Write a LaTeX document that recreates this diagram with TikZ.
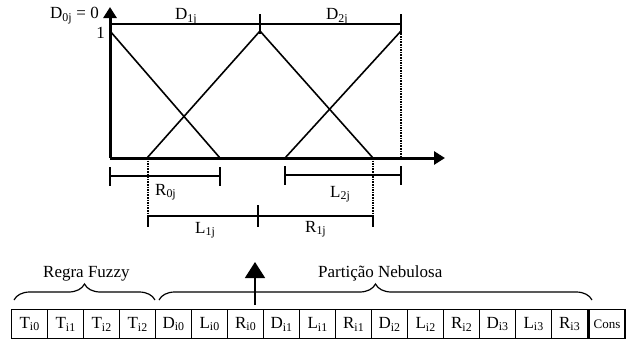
\documentclass[tikz,border=0pt]{standalone}
\usepackage{fontspec}
\setmainfont{Liberation Serif}
\usetikzlibrary{arrows.meta,decorations.pathreplacing,positioning}

\begin{document}
\begin{tikzpicture}[
    x=1pt, y=-1pt,
    font=\fontsize{17}{20}\selectfont,
    axis/.style={line width=3pt, -{Triangle[length=11pt, width=13pt]}},
    curve/.style={line width=1.6pt},
    guide/.style={line width=1.6pt, densely dotted},
    lbl/.style={inner sep=0pt, anchor=base west},
    cell/.style={draw, line width=1.3pt, minimum width=36pt, minimum height=29pt, inner sep=0pt, anchor=north west},
    brace/.style={decorate, decoration={brace, amplitude=16pt}, line width=1.2pt},
    bigarrow/.style={line width=1.6pt, -{Triangle[length=16pt, width=20pt]}}
  ]
  \useasboundingbox (0,0) rectangle (631,349);
  \coordinate (O) at (110,158);
  \coordinate (ytip) at (110,7);
  \coordinate (xtip) at (445,158);
  \coordinate (p0) at (110,31);
  \coordinate (p1) at (260,31);
  \coordinate (p2) at (401,31);
  \draw[axis] (O) -- (ytip);
  \draw[axis] (O) -- (xtip);
  \draw[curve] (p0) -- (220,158);
  \draw[curve] (147,158) -- (p1) -- (373,158);
  \draw[curve] (285,158) -- (p2);
  \draw[curve] (110,24) -- (401,24);
  \draw[curve] (260,14) -- (260,34);
  \draw[curve] (401,14) -- (401,34);
  \draw[guide] (p2) -- (401,158);
  \draw[guide] (148,158) -- (148,216);
  \draw[guide] (373,158) -- (373,216);
  % bars under the axis
  \draw[curve] (110,176) -- (220,176);
  \draw[curve] (110,167) -- (110,186);
  \draw[curve] (220,167) -- (220,186);
  \draw[curve] (285,175) -- (401,175);
  \draw[curve] (285,166) -- (285,185);
  \draw[curve] (401,166) -- (401,185);
  \draw[curve] (148,216) -- (373,216);
  \draw[curve] (148,216) -- (148,227);
  \draw[curve] (258,205) -- (258,227);
  \draw[curve] (373,216) -- (373,227);
  \node[lbl, anchor=base east] (d0) at (99,18.5) {D\textsubscript{0j} = 0};
  \node[lbl, anchor=base east] (one) at (105,38) {1};
  \node[lbl] (d1) at (175,19.5) {D\textsubscript{1j}};
  \node[lbl] (d2) at (326,19.5) {D\textsubscript{2j}};
  \node[lbl] (r0) at (155,195) {R\textsubscript{0j}};
  \node[lbl] (l2) at (330,197) {L\textsubscript{2j}};
  \node[lbl] (l1) at (195,233) {L\textsubscript{1j}};
  \node[lbl] (r1) at (305,232) {R\textsubscript{1j}};
  % chromosome
  \foreach \t [count=\i] in {T\textsubscript{i0}, T\textsubscript{i1}, T\textsubscript{i2}, T\textsubscript{i2},
      D\textsubscript{i0}, L\textsubscript{i0}, R\textsubscript{i0}, D\textsubscript{i1}, L\textsubscript{i1}, R\textsubscript{i1},
      D\textsubscript{i2}, L\textsubscript{i2}, R\textsubscript{i2}, D\textsubscript{i3}, L\textsubscript{i3}, R\textsubscript{i3}}
    \node[cell] (b\i) at ({11+36*(\i-1)},309) {\t};
  \node[cell, font=\fontsize{13}{15}\selectfont] (b17) at (b16.north east) {Cons};
  \draw[brace] (14,300) -- (155,300);
  \draw[brace] (159,300) -- (592,300);
  \node[lbl] (rf) at (43,277) {Regra Fuzzy};
  \node[lbl] (pn) at (318,277) {Partição Nebulosa};
  \coordinate (up) at (255,262);
  \draw[bigarrow] ([yshift=4pt]up |- b7.north) -- (up);
\end{tikzpicture}
\end{document}
